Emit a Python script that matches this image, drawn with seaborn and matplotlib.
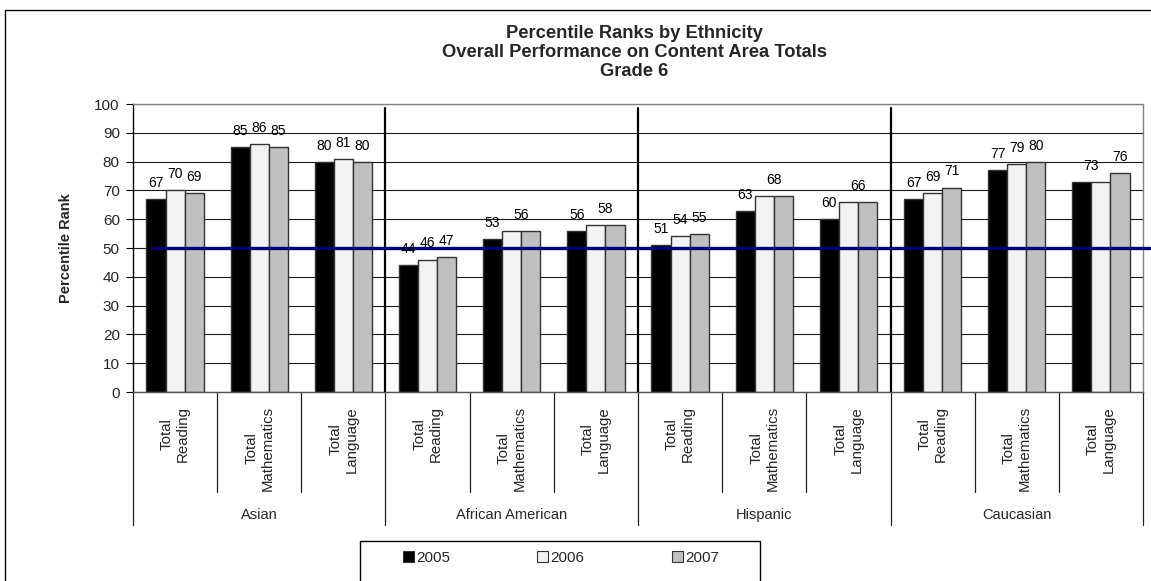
import matplotlib
matplotlib.use("Agg")
import matplotlib.pyplot as plt
import seaborn as sns
import pandas as pd
from matplotlib.patches import Rectangle, Patch

# --- data -------------------------------------------------------------
ethnicities = ["Asian", "African American", "Hispanic", "Caucasian"]
subjects = ["Total\nReading", "Total\nMathematics", "Total\nLanguage"]
years = ["2005", "2006", "2007"]
scores_2005 = [67, 85, 80, 44, 53, 56, 51, 63, 60, 67, 77, 73]
scores_2006 = [70, 86, 81, 46, 56, 58, 54, 68, 66, 69, 79, 73]
scores_2007 = [69, 85, 80, 47, 56, 58, 55, 68, 66, 71, 80, 76]
y_ticks = list(range(0, 101, 10))
benchmark = 50
title_lines = ["Percentile Ranks by Ethnicity",
               "Overall Performance on Content Area Totals",
               "Grade 6"]

year_colors = ["#000000", "#F2F2F2", "#C0C0C0"]

# --- long-form table for seaborn -------------------------------------
slots = [f"{e}|{s}" for e in ethnicities for s in subjects]
rows = []
for yr, vals in zip(years, [scores_2005, scores_2006, scores_2007]):
    for slot, v in zip(slots, vals):
        rows.append({"slot": slot, "year": yr, "score": v})
df = pd.DataFrame(rows)

sns.set_theme(style="white")
plt.rcParams["font.family"] = ["Liberation Sans", "DejaVu Sans"]

W, H = 1151, 581
fig = plt.figure(figsize=(W / 100, H / 100), dpi=100)
ax_left, ax_right, ax_top, ax_bottom = 133, 1143, 104, 392
ax = fig.add_axes([ax_left / W, 1 - ax_bottom / H,
                   (ax_right - ax_left) / W, (ax_bottom - ax_top) / H])

sns.barplot(data=df, x="slot", y="score", hue="year", order=slots,
            hue_order=years, palette=year_colors, width=0.68,
            edgecolor="#333333", linewidth=1.0, saturation=1,
            errorbar=None, legend=False, ax=ax)

ax.set_xlim(-0.5, len(slots) - 0.5)
ax.set_ylim(0, 100)
ax.set_yticks(y_ticks)
ax.set_xlabel("")
ax.set_ylabel("Percentile Rank", fontsize=10.5, fontweight="bold")
ax.yaxis.set_label_coords(-(ax_left - 73) / (ax_right - ax_left), 0.5)

ax.yaxis.grid(True, color="#1a1a1a", lw=0.8)
ax.set_axisbelow(True)
ax.tick_params(axis="y", length=5, width=0.8, direction="out",
               color="black", labelsize=11, pad=4.5, left=True)
ax.tick_params(axis="x", length=0, pad=10)
ax.set_xticks(range(len(slots)))
ax.set_xticklabels(subjects * len(ethnicities), rotation=90,
                   fontsize=10.8, ha="center", va="top")

for side in ["top", "right"]:
    ax.spines[side].set_color("#808080")
    ax.spines[side].set_linewidth(1.0)
ax.spines["left"].set_color("black")
ax.spines["left"].set_linewidth(1.0)
ax.spines["bottom"].set_color("#555555")
ax.spines["bottom"].set_linewidth(1.0)

# value labels (equal neighbouring bars share one label)
for i in range(len(slots)):
    vals = [scores_2005[i], scores_2006[i], scores_2007[i]]
    bars = [ax.containers[h][i] for h in range(3)]
    h = 0
    while h < 3:
        j = h
        while j + 1 < 3 and vals[j + 1] == vals[h]:
            j += 1
        x0 = bars[h].get_x()
        x1 = bars[j].get_x() + bars[j].get_width()
        ax.annotate(str(vals[h]), ((x0 + x1) / 2, vals[h]), xytext=(0, 6.5),
                    textcoords="offset points", ha="center", va="bottom",
                    fontsize=10, color="black", zorder=6)
        h = j + 1

# national-average reference line
ax.plot([-0.27, 12.5], [benchmark, benchmark], color="#000080", lw=2.4,
        clip_on=False, zorder=5, solid_capstyle="butt")

# separators between ethnic groups inside the plot
n_sub = len(subjects)
for g in range(1, len(ethnicities)):
    xb = g * n_sub - 0.5
    ax.plot([xb, xb], [0, 98.6], color="black", lw=1.6, zorder=4)

# category-axis divider lines below the plot
tr = ax.get_xaxis_transform()
short_frac = -(492 - ax_bottom) / (ax_bottom - ax_top)
long_frac = -(525 - ax_bottom) / (ax_bottom - ax_top)
for k in range(len(slots) + 1):
    xb = k - 0.5
    yend = long_frac if k % n_sub == 0 else short_frac
    ax.plot([xb, xb], [0, yend], transform=tr, color="#222222", lw=0.9,
            clip_on=False)

label_frac = -(515 - ax_bottom) / (ax_bottom - ax_top)
for g, eth in enumerate(ethnicities):
    ax.text(g * n_sub + (n_sub - 1) / 2, label_frac, eth, transform=tr,
            ha="center", va="center", fontsize=10.5)

# title, one line per baseline
for line, base in zip(title_lines, [38, 57, 76]):
    fig.text(634 / W, 1 - base / H, line, ha="center", va="baseline",
             fontsize=13.2, fontweight="bold")

# legend
handles = [Patch(facecolor=c, edgecolor="#333333", lw=0.8) for c in year_colors]
fig.legend(handles, years, loc="center", bbox_to_anchor=(561 / W, 1 - 558 / H),
           ncol=3, frameon=False, handlelength=0.72, handleheight=0.72,
           handletextpad=0.15, columnspacing=5.7, fontsize=11)
fig.add_artist(Rectangle((360 / W, -0.1), (760 - 360) / W,
                         0.1 + (H - 541) / H, transform=fig.transFigure,
                         fill=False, ec="black", lw=1.0))

# outer chart border
fig.add_artist(Rectangle((5 / W, -0.1), 1.2, 0.1 + (H - 10) / H,
                         transform=fig.transFigure, fill=False,
                         ec="black", lw=1.0))

fig.savefig("out.png", dpi=100, facecolor="white")
